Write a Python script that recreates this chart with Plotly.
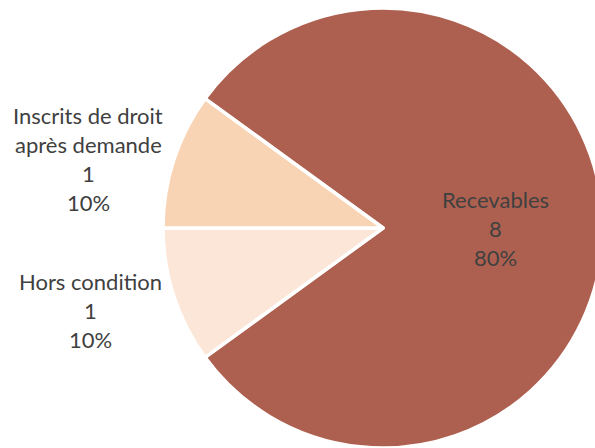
import plotly.graph_objects as go

# Data
labels = ["Recevables", "Hors condition", "Inscrits de droit<br>après demande"]
values = [8, 1, 1]
colors = ["#AE6050", "#FBE6D8", "#F9D4B4"]

# Label block positions (pixel centre of first line), styling only
label_pos = {
    "Recevables": (495, 199),
    "Hors condition": (90, 281),
    "Inscrits de droit<br>après demande": (88, 115),
}

W, H = 604, 448
LINE = 29.3
FONT = dict(family="Lato, 'Open Sans', sans-serif", size=22, color="#404040")

fig = go.Figure(
    go.Pie(
        labels=labels,
        values=values,
        sort=False,
        direction="clockwise",
        rotation=-54,
        marker=dict(colors=colors, line=dict(color="#FFFFFF", width=3.5)),
        textinfo="none",
        hoverinfo="label+value+percent",
        domain=dict(x=[162 / W, 604 / W], y=[0, 440 / H]),
        showlegend=False,
    )
)

total = sum(values)
annotations = []
for lab, val in zip(labels, values):
    lines = lab.split("<br>") + [str(val), f"{round(100 * val / total)}%"]
    x0, y0 = label_pos[lab]
    for i, ln in enumerate(lines):
        annotations.append(
            dict(
                text=ln,
                x=x0 / W,
                y=1 - (y0 + i * LINE) / H,
                xref="paper",
                yref="paper",
                xanchor="center",
                yanchor="middle",
                showarrow=False,
                font=FONT,
            )
        )

fig.update_layout(
    width=W,
    height=H,
    margin=dict(l=0, r=0, t=0, b=0),
    paper_bgcolor="#FFFFFF",
    plot_bgcolor="#FFFFFF",
    annotations=annotations,
)

fig.write_html(
    "out.html",
    config={"displayModeBar": False},
    post_script="document.body.style.margin='0';document.body.style.overflow='hidden';",
)
